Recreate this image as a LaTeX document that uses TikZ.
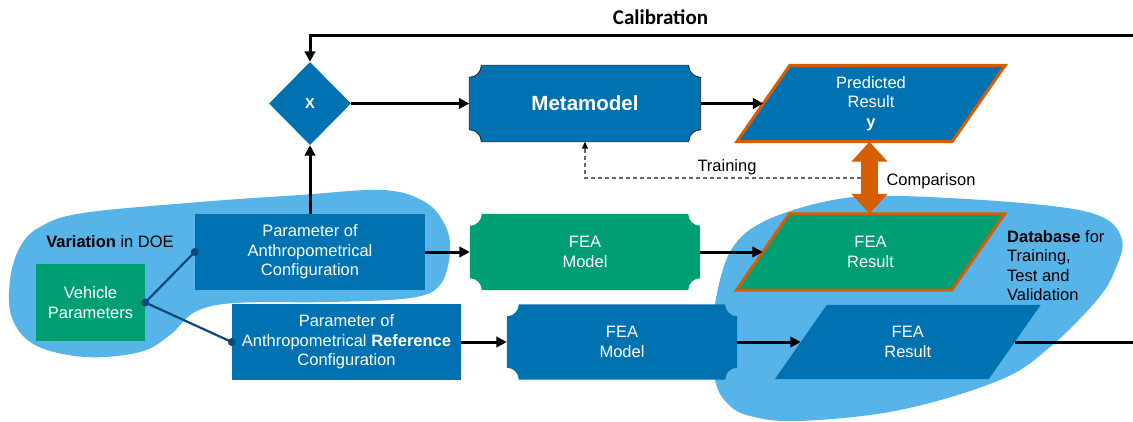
\documentclass[tikz,border=0pt]{standalone}
\usepackage{fontspec}
\setmainfont{Liberation Sans}
\newfontfamily\calibfont{Carlito}
\usetikzlibrary{shapes.geometric,arrows.meta,calc}
\definecolor{cblue}{HTML}{0072B2}
\definecolor{cgreen}{HTML}{009E73}
\definecolor{csky}{HTML}{56B4E9}
\definecolor{corange}{HTML}{D55E00}
\definecolor{cnavy}{RGB}{15,70,125}
\pgfdeclarelayer{blob}
\pgfdeclarelayer{bg}
\pgfsetlayers{blob,bg,main}
\newcommand\notchpath[2]{%
  \path[#2] ([xshift=12pt]#1.north west) -- ([xshift=-12pt]#1.north east)
    arc[start angle=180,end angle=270,radius=12pt]
    -- ([yshift=12pt]#1.south east)
    arc[start angle=90,end angle=180,radius=12pt]
    -- ([xshift=12pt]#1.south west)
    arc[start angle=0,end angle=90,radius=12pt]
    -- ([yshift=-12pt]#1.north west)
    arc[start angle=270,end angle=360,radius=12pt] -- cycle;}
\newcommand\parapath[3]{%
  \path[#3] ([xshift=#2]#1.north west) -- ([xshift=#2]#1.north east)
    -- ([xshift=-#2]#1.south east) -- ([xshift=-#2]#1.south west) -- cycle;}
\begin{document}
\begin{tikzpicture}[x=1pt,y=1pt,
  box/.style={rectangle,inner sep=0pt,text=white,align=center,font=\fontsize{16.5}{19.5}\selectfont},
  conn/.style={line width=3pt,-{Triangle[length=10.5pt,width=10.5pt]}},
  plain/.style={line width=3pt},
  dotn/.style={circle,fill=cnavy,inner sep=0pt,minimum size=8pt},
  lbl/.style={text=black,font=\fontsize{16.5}{19.5}\selectfont,inner sep=0pt}]
\useasboundingbox (0,0) rectangle (1133,-421);
% nodes
\node[box,minimum width=109pt,minimum height=77pt] (veh) at (90.5,-302.5) {Vehicle\\Parameters};
\node[box,minimum width=230pt,minimum height=75pt] (pac) at (310,-252) {Parameter of\\Anthropometrical\\Configuration};
\node[box,minimum width=229pt,minimum height=75pt] (par) at (346.5,-342) {Parameter of\\Anthropometrical \textbf{Reference}\\Configuration};
\node[box,minimum width=230pt,minimum height=76pt] (fmg) at (585,-252) {FEA\\Model};
\node[box,minimum width=230pt,minimum height=75pt] (fmb) at (622,-342) {FEA\\Model};
\node[box,minimum width=231pt,minimum height=76pt,font=\bfseries\fontsize{20.5}{24}\selectfont] (meta) at (585,-103.5) {Metamodel};
\node[box,minimum width=215pt,minimum height=76pt] (pred) at (871,-103.5) {Predicted\\Result\\\textbf{y}};
\node[box,minimum width=215pt,minimum height=76pt] (feag) at (870.5,-252) {FEA\\Result};
\node[box,minimum width=213.5pt,minimum height=74pt] (feab) at (907.75,-342) {FEA\\Result};
\node[diamond,fill=cblue,inner sep=0pt,minimum width=82pt,minimum height=83pt,text=white,font=\bfseries\fontsize{14.5}{17}\selectfont] (x) at (310,-103.5) {X};
% shapes
\begin{pgfonlayer}{bg}
\fill[cgreen] (veh.north west) rectangle (veh.south east);
\fill[cblue] (pac.north west) rectangle (pac.south east);
\fill[cblue] (par.north west) rectangle (par.south east);
\notchpath{fmg}{fill=cgreen}
\notchpath{fmb}{fill=cblue}
\notchpath{meta}{fill=cblue,draw=black!85,line width=0.8pt}
\parapath{pred}{26.5pt}{fill=cblue,draw=corange,line width=3pt}
\parapath{feag}{26.5pt}{fill=cgreen,draw=corange,line width=3pt}
\parapath{feab}{26pt}{fill=cblue}
\end{pgfonlayer}
\begin{pgfonlayer}{blob}
\fill[white] (0,0) rectangle (1133,-421);
\fill[csky] plot[smooth cycle,tension=0.6] coordinates {(10,-280) (20,-247) (40,-227) (83,-213) (200,-202) (300,-195) (383,-190) (425,-202) (445,-225) (450,-252) (440,-285) (410,-298) (330,-302) (235,-303) (195,-312) (170,-335) (140,-352) (85,-357) (35,-345) (12,-318)};
\fill[csky] plot[smooth cycle,tension=0.6] coordinates {(717,-293) (733,-247) (767,-220) (833,-200) (900,-196) (1033,-204) (1100,-216) (1122,-240) (1115,-270) (1097,-300) (1050,-347) (1000,-380) (900,-410) (800,-421) (750,-416) (727,-403) (715,-380) (713,-340)};
\end{pgfonlayer}
% connectors
\coordinate (calR) at (1133,-35);
\coordinate (outR) at (1133,-342);
\coordinate (trS) at (861,-178);
\draw[conn] (calR) -| (x.north);
\draw[conn] (pac.north) -- (x.south);
\draw[conn] (x.east) -- (meta.west);
\draw[conn] (meta.east) -- (pred.west);
\draw[conn] (pac.east) -- (fmg.west);
\draw[conn] (fmg.east) -- (feag.west);
\draw[conn] (par.east) -- (fmb.west);
\draw[conn] (fmb.east) -- (feab.west);
\draw[plain] (feab.east) -- (outR);
\draw[black!60, line width=1.1pt, dash pattern=on 4pt off 3pt, -{Triangle[length=7pt,width=6pt,color=black]}] (trS) -| (meta.south);
\draw[corange, line width=17pt, {Triangle[length=20pt,width=35pt]}-{Triangle[length=20pt,width=35pt]}] ([xshift=-1.5pt]pred.south) -- ([xshift=-1pt]feag.north);
\node[dotn] (d0) at (veh.east) {};
\node[dotn] (d1) at (pac.west) {};
\node[dotn] (d2) at (par.west) {};
\draw[cnavy,line width=2.2pt] (d1.center) -- (d0.center) -- (d2.center);
% labels
\node[lbl] (trl) at (727,-167) {Training};
\node[lbl] (cmpl) at (931,-181) {Comparison};
\node[lbl] (var) at (110,-242) {\textbf{Variation} in DOE};
\node[lbl,align=left,anchor=west] (db) at (1007,-265.5) {\textbf{Database} for\\Training,\\Test and\\Validation};
\node[font=\calibfont\bfseries\fontsize{21}{25}\selectfont,inner sep=0pt] (cal) at (660.5,-17) {Calibration};
\end{tikzpicture}
\end{document}
